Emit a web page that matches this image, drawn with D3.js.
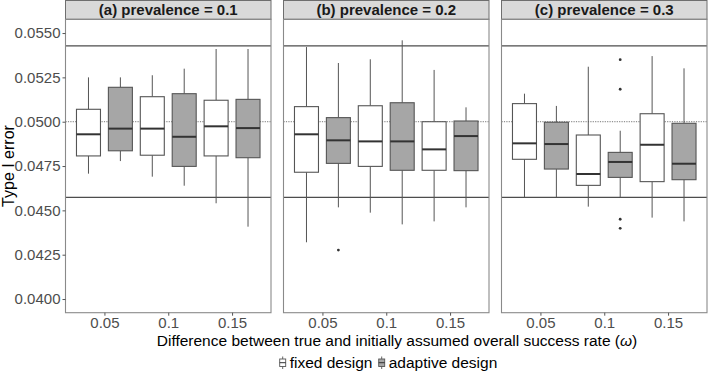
<!DOCTYPE html>
<html>
<head>
<meta charset="utf-8">
<script src="https://cdn.jsdelivr.net/npm/d3@7"></script>
<style>
  body { margin: 0; background: #fff; }
  svg { display: block; font-family: "Liberation Sans", Arial, Helvetica, sans-serif; }
</style>
</head>
<body>
<div id="chart"></div>
<script>
// panels, x categories and designs
const panels = ['(a) prevalence = 0.1', '(b) prevalence = 0.2', '(c) prevalence = 0.3'];
const omegas = [0.05, 0.1, 0.15];
const designs = ['fixed design', 'adaptive design'];
const yTicks = [0.0400, 0.0425, 0.0450, 0.0475, 0.0500, 0.0525, 0.0550];

// box stats per omega: [lower whisker, q1, median, q3, upper whisker]
const fixedA    = [[0.04707, 0.04807, 0.04929, 0.05070, 0.05250],
                   [0.04690, 0.04811, 0.04961, 0.05141, 0.05262],
                   [0.04540, 0.04807, 0.04974, 0.05121, 0.05410]];
const adaptiveA = [[0.04778, 0.04836, 0.04961, 0.05194, 0.05250],
                   [0.04639, 0.04748, 0.04915, 0.05158, 0.05299],
                   [0.04408, 0.04797, 0.04964, 0.05126, 0.05410]];
const fixedB    = [[0.04320, 0.04715, 0.04929, 0.05085, 0.05421],
                   [0.04487, 0.04748, 0.04889, 0.05090, 0.05352],
                   [0.04438, 0.04726, 0.04844, 0.05000, 0.05292]];
const adaptiveB = [[0.04517, 0.04765, 0.04895, 0.05023, 0.05331],
                   [0.04421, 0.04726, 0.04889, 0.05107, 0.05459],
                   [0.04517, 0.04724, 0.04919, 0.05004, 0.05081]];
const fixedC    = [[0.04574, 0.04788, 0.04878, 0.05102, 0.05158],
                   [0.04521, 0.04641, 0.04705, 0.04925, 0.05310],
                   [0.04459, 0.04662, 0.04870, 0.05045, 0.05370]];
const adaptiveC = [[0.04574, 0.04733, 0.04874, 0.04997, 0.05089],
                   [0.04574, 0.04686, 0.04773, 0.04827, 0.04949],
                   [0.04438, 0.04673, 0.04763, 0.04991, 0.05301]];

// outliers: [panel, design, omega, value]
const outliers = [[1, 1, 0.05, 0.04276],
                  [2, 1, 0.1, 0.05350], [2, 1, 0.1, 0.05183],
                  [2, 1, 0.1, 0.04450], [2, 1, 0.1, 0.04399]];

// nominal level and its binomial bounds
const nominal = 0.05;
const bounds = [0.054272, 0.045728];

const stats = [[fixedA, adaptiveA], [fixedB, adaptiveB], [fixedC, adaptiveC]];

const width = 708, height = 373;
const panelW = 205.5, gap = 12.5, left0 = 65.5;
const stripTop = 0, stripH = 19.3, plotTop = 19.3, plotBottom = 312.7;
const fills = ['#ffffff', '#a6a6a6'];
const dodge = 0.0125, boxW = 0.0188;

const svg = d3.select('#chart').append('svg')
  .attr('width', width)
  .attr('height', height);

const yScale = d3.scaleLinear()
  .domain([0.039229, 0.055775])
  .range([plotBottom, plotTop]);

panels.forEach((title, p) => {
  const x0 = left0 + p * (panelW + gap);
  const xScale = d3.scaleLinear()
    .domain([0.0195, 0.1805])
    .range([x0, x0 + panelW]);

  // strip
  svg.append('rect')
    .attr('x', x0).attr('y', stripTop + 0.5)
    .attr('width', panelW).attr('height', stripH - 0.5)
    .attr('fill', '#d9d9d9').attr('stroke', '#6e6e6e').attr('stroke-width', 1);
  svg.append('text')
    .attr('x', x0 + panelW / 2).attr('y', 15)
    .attr('text-anchor', 'middle')
    .attr('font-weight', 'bold').attr('font-size', '15px').attr('fill', '#1a1a1a')
    .text(title);

  const g = svg.append('g');

  // reference lines
  g.selectAll('.bound').data(bounds).join('line')
    .attr('x1', x0).attr('x2', x0 + panelW)
    .attr('y1', d => yScale(d)).attr('y2', d => yScale(d))
    .attr('stroke', '#4d4d4d').attr('stroke-width', 1.3);
  g.append('line')
    .attr('x1', x0).attr('x2', x0 + panelW)
    .attr('y1', yScale(nominal)).attr('y2', yScale(nominal))
    .attr('stroke', '#666').attr('stroke-width', 0.9)
    .attr('stroke-dasharray', '1.2,1.2');

  designs.forEach((des, k) => {
    const off = k === 0 ? -dodge : dodge;
    stats[p][k].forEach((s, i) => {
      const cx = xScale(omegas[i] + off);
      const bx = xScale(omegas[i] + off - boxW / 2);
      const bw = xScale(omegas[i] + off + boxW / 2) - bx;
      // whiskers
      g.append('line')
        .attr('x1', cx).attr('x2', cx)
        .attr('y1', yScale(s[3])).attr('y2', yScale(s[4]))
        .attr('stroke', '#555').attr('stroke-width', 1);
      g.append('line')
        .attr('x1', cx).attr('x2', cx)
        .attr('y1', yScale(s[1])).attr('y2', yScale(s[0]))
        .attr('stroke', '#555').attr('stroke-width', 1);
      // box
      g.append('rect')
        .attr('x', bx).attr('width', bw)
        .attr('y', yScale(s[3])).attr('height', yScale(s[1]) - yScale(s[3]))
        .attr('fill', fills[k]).attr('stroke', '#555').attr('stroke-width', 1.1);
      // median
      g.append('line')
        .attr('x1', bx).attr('x2', bx + bw)
        .attr('y1', yScale(s[2])).attr('y2', yScale(s[2]))
        .attr('stroke', '#333').attr('stroke-width', 2);
    });
  });

  g.selectAll('.out').data(outliers.filter(d => d[0] === p)).join('circle')
    .attr('cx', d => xScale(d[2] + (d[1] === 0 ? -dodge : dodge)))
    .attr('cy', d => yScale(d[3]))
    .attr('r', 1.4).attr('fill', '#333');

  // panel border
  svg.append('rect')
    .attr('x', x0).attr('y', plotTop)
    .attr('width', panelW).attr('height', plotBottom - plotTop)
    .attr('fill', 'none').attr('stroke', '#8a8a8a').attr('stroke-width', 1.1);

  // x axis
  const xa = svg.append('g')
    .attr('transform', `translate(0,${plotBottom})`)
    .call(d3.axisBottom(xScale).tickValues(omegas).tickFormat(d3.format('')).tickSize(3).tickPadding(2));
  xa.select('.domain').remove();
  xa.selectAll('line').attr('stroke', '#555');
  xa.selectAll('text').attr('font-size', '15px').attr('fill', '#4d4d4d')
    .attr('font-family', null);
});

// y axis
const ya = svg.append('g')
  .attr('transform', `translate(${left0},0)`)
  .call(d3.axisLeft(yScale).tickValues(yTicks).tickFormat(d3.format('.4f')).tickSize(3).tickPadding(2));
ya.select('.domain').remove();
ya.selectAll('line').attr('stroke', '#555');
ya.selectAll('text').attr('font-size', '15px').attr('fill', '#4d4d4d').attr('font-family', null);

// axis titles
const xt = svg.append('text')
  .attr('x', 397).attr('y', 346)
  .attr('text-anchor', 'middle').attr('font-size', '15.5px').attr('fill', '#000');
xt.append('tspan').text('Difference between true and initially assumed overall success rate (');
xt.append('tspan').attr('font-style', 'italic').text('ω');
xt.append('tspan').text(')');

svg.append('text')
  .attr('transform', `translate(13.5,${(plotTop + plotBottom) / 2}) rotate(-90)`)
  .attr('text-anchor', 'middle').attr('font-size', '16px').attr('fill', '#000')
  .text('Type I error');

// legend
const legX = [282.7, 381.7];
designs.forEach((d, k) => {
  const lg = svg.append('g').attr('transform', `translate(${legX[k]},0)`);
  lg.append('line').attr('x1', 0).attr('x2', 0).attr('y1', 356.5).attr('y2', 369)
    .attr('stroke', '#555').attr('stroke-width', 0.9);
  lg.append('rect').attr('x', -3).attr('y', 359).attr('width', 6).attr('height', 7.5)
    .attr('fill', fills[k]).attr('stroke', '#555').attr('stroke-width', 0.9);
  lg.append('line').attr('x1', -3).attr('x2', 3).attr('y1', 362.7).attr('y2', 362.7)
    .attr('stroke', '#333').attr('stroke-width', 1);
  lg.append('text').attr('x', 7).attr('y', 368)
    .attr('font-size', '15.5px').attr('fill', '#000').text(d);
});
</script>
</body>
</html>
